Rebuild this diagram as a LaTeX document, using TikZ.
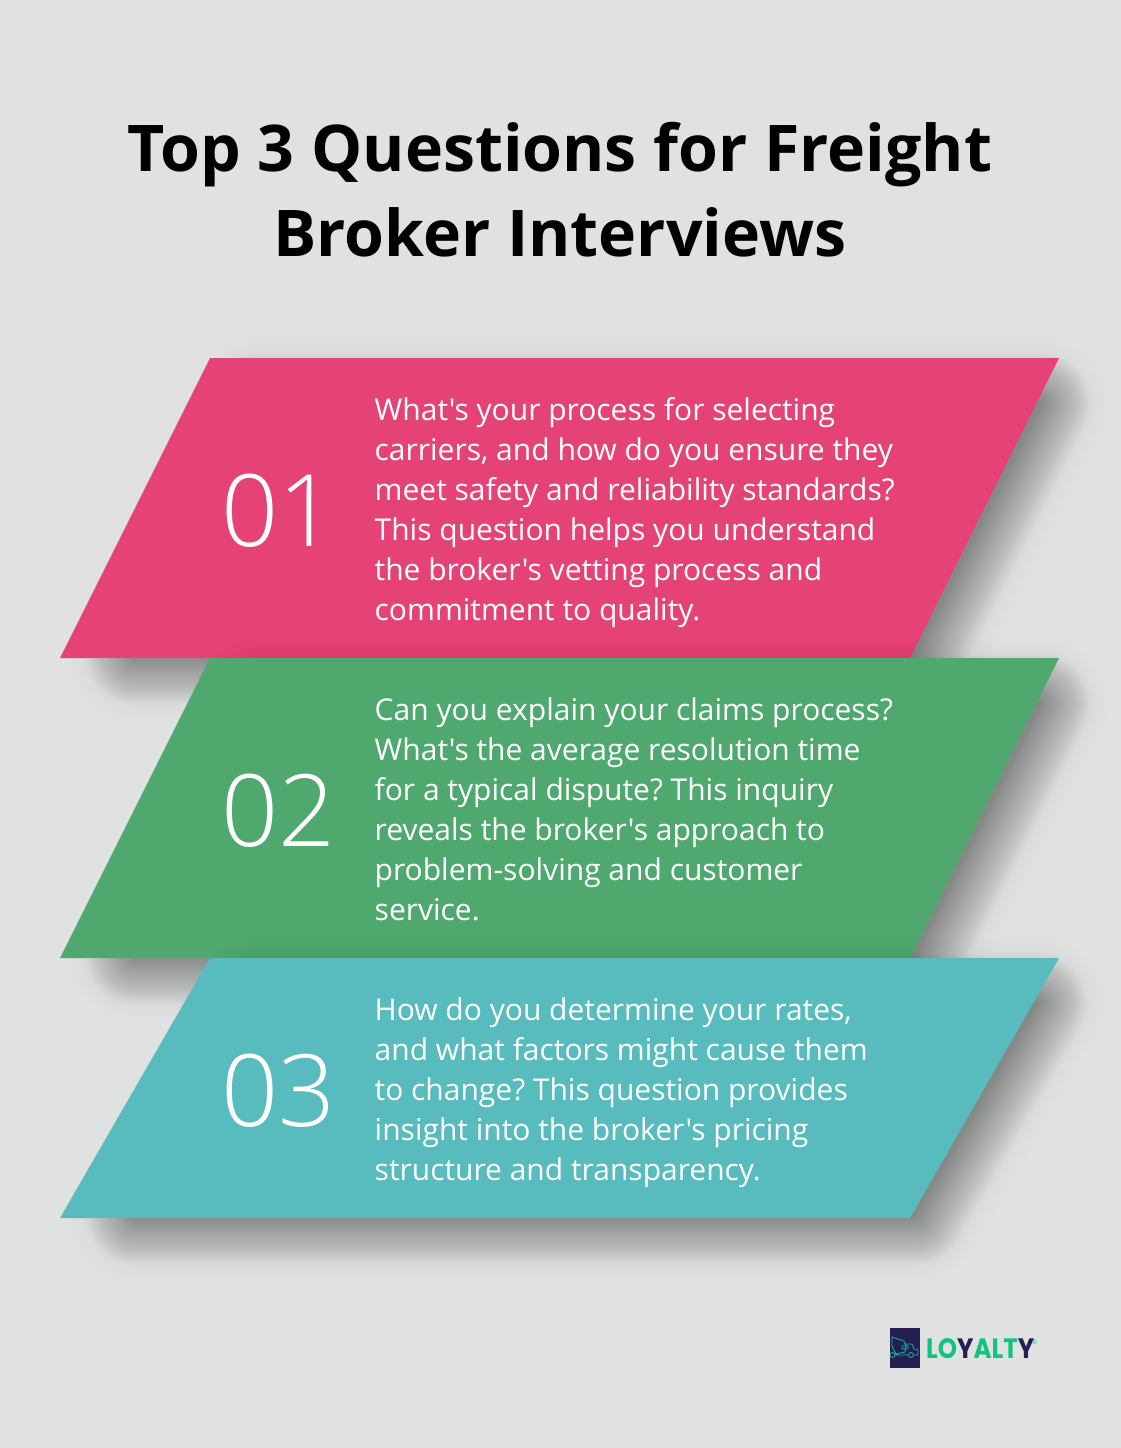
\documentclass[tikz,border=0pt]{standalone}
\usepackage{fontspec}
\setmainfont{Open Sans}[Ligatures=TeXOff]
\newfontfamily\numfont{Open Sans Light}
\newfontfamily\logofont{Poppins}[BoldFont={Poppins Bold}]
\frenchspacing
\definecolor{bgc}{HTML}{DFE2E0}
\definecolor{pinkc}{HTML}{E54376}
\definecolor{greenc}{HTML}{4FA96E}
\definecolor{tealc}{HTML}{58BBBD}
\definecolor{navyc}{HTML}{231F52}
\definecolor{logog}{HTML}{12C27E}
\definecolor{logol}{HTML}{16B8A0}
\tikzset{
  bodytext/.style={anchor=north west,inner sep=0pt,align=left,text=white,font=\fontsize{30}{40}\selectfont},
  numtext/.style={anchor=base west,inner sep=0pt,text=white,font=\numfont\fontsize{100}{100}\selectfont},
  titletext/.style={anchor=base,inner sep=0pt,text=black,font=\bfseries\fontsize{64.4}{85}\selectfont},
  logotext/.style={anchor=base west,inner sep=0pt,font=\logofont\bfseries\fontsize{28}{28}\selectfont},
}
\newcommand{\softshadow}[1]{%
  \foreach \w/\a in {134/0.003,128/0.003,122/0.004,116/0.004,110/0.005,104/0.006,98/0.0153,94/0.0153,90/0.0153,86/0.0153,82/0.0153,78/0.0153,74/0.0153,70/0.0153,66/0.0153,62/0.0153,58/0.0153,54/0.0153,50/0.0153,46/0.0153,42/0.0153,38/0.0153,34/0.0153,30/0.0153,26/0.0153,22/0.0153,18/0.0153,14/0.0153,10/0.0153,6/0.0153,2/0.0153}{
    \begin{scope}[transparency group,opacity=\a]
    \draw[line width=\w pt,line join=round,draw=black,fill=black] #1 -- cycle;
    \end{scope}
  }
}
\begin{document}
\begin{tikzpicture}[x=1pt,y=-1pt]
\useasboundingbox (0,0) rectangle (1120,1448);
\fill[bgc] (-2,-2) rectangle (1122,1450);
\node[titletext] (t1) at (560,171) {Top 3 Questions for Freight};
\node[titletext] (t2) at (560,256) {Broker Interviews};
% card 1
\softshadow{(261.5,403) -- (1040.5,403) -- (914.5,655) -- (135.5,655)}
\fill[pinkc] (210,358) -- (1059,358) -- (910,658) -- (60,658) -- cycle;
\node[numtext] (n1) at (221,546) {01};
\node[bodytext] (b1) at (374.5,397.5) {What's your process for selecting\\carriers, and how do you ensure they\\meet safety and reliability standards?\\This question helps you understand\\the broker's vetting process and\\commitment to quality.};
% card 2
\softshadow{(261.5,703) -- (1040.5,703) -- (914.5,955) -- (135.5,955)}
\fill[greenc] (210,658) -- (1059,658) -- (910,958) -- (60,958) -- cycle;
\node[numtext] (n2) at (221,846) {02};
\node[bodytext] (b2) at (374.5,697.5) {Can you explain your claims process?\\What's the average resolution time\\for a typical dispute? This inquiry\\reveals the broker's approach to\\problem-solving and customer\\service.};
% card 3
\softshadow{(258,1003) -- (1037,1003) -- (915,1215) -- (136,1215)}
\fill[tealc] (210,958) -- (1059,958) -- (910,1218) -- (60,1218) -- cycle;
\node[numtext] (n3) at (221,1126) {03};
\node[bodytext] (b3) at (374.5,997.5) {How do you determine your rates,\\and what factors might cause them\\to change? This question provides\\insight into the broker's pricing\\structure and transparency.};
% logo
\fill[navyc] (890,1328) rectangle (920,1368);
\draw[logol,line width=0.8pt,line join=round]
  (892,1337) -- (904,1341) -- (906,1345) -- (905,1352) -- (896,1354) -- (892,1346) -- cycle
  (904,1344) -- (912,1344) -- (914,1349) -- (918,1350) -- (918,1355) -- (914,1355)
  (908,1355) -- (895,1355)
  (902,1346) rectangle (908,1349);
\draw[logol,line width=0.8pt] (892.5,1355) circle (2.5) (911,1355) circle (2.5);
\node[logotext] (logo) at (926,1358) {\scalebox{0.875}[1]{\textcolor{logog}{LO}\textcolor{navyc}{Y}\textcolor{logog}{ALT}\textcolor{navyc}{Y}}};
\node[anchor=west,inner sep=0pt,text=logog,font=\fontsize{6}{6}\selectfont] (reg) at (1032,1342) {®};
\end{tikzpicture}
\end{document}
